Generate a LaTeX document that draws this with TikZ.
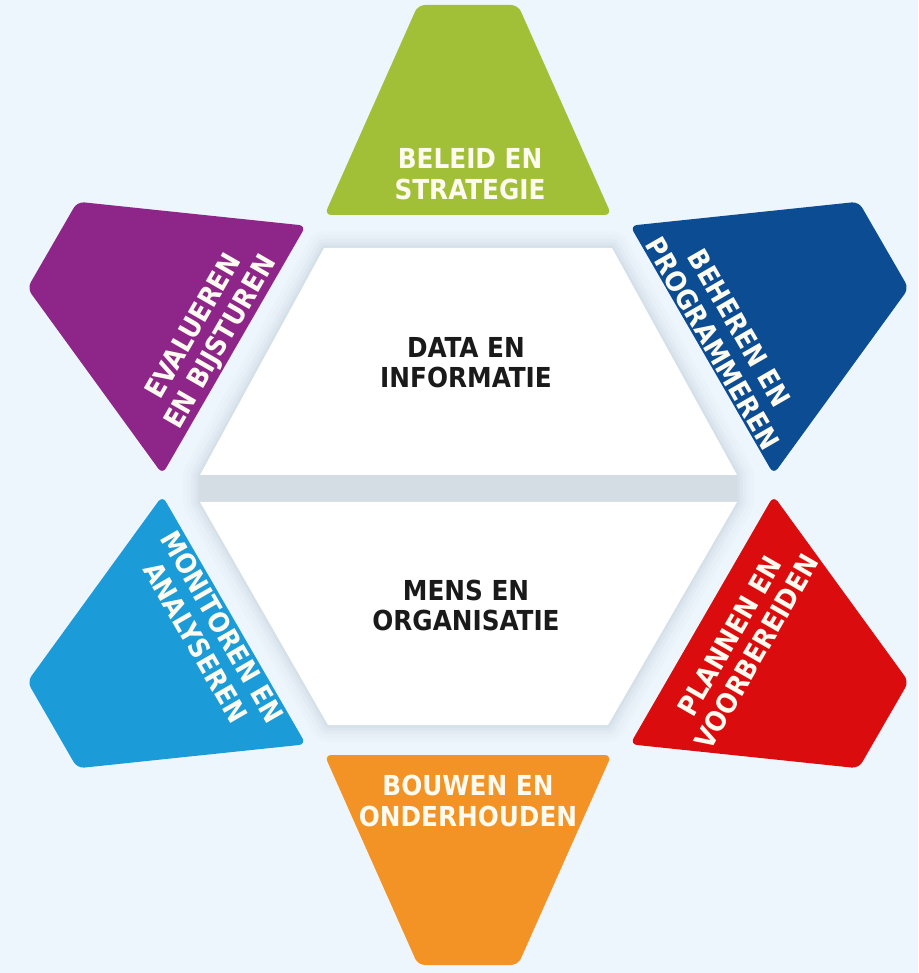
\documentclass[tikz,border=0pt]{standalone}
\usepackage{fontspec}
\newfontfamily\lab{DejaVu Sans Condensed Bold}
\definecolor{bgc}{RGB}{238,246,253}
\definecolor{shadowc}{RGB}{150,165,180}
\definecolor{bandc}{RGB}{212,220,228}
\definecolor{cgreen}{RGB}{162,192,55}
\definecolor{cpurple}{RGB}{142,37,137}
\definecolor{cblue}{RGB}{11,76,147}
\definecolor{ccyan}{RGB}{27,155,216}
\definecolor{cred}{RGB}{219,12,14}
\definecolor{corange}{RGB}{243,147,37}
\definecolor{ctext}{RGB}{253,251,240}
\definecolor{dtext}{RGB}{26,26,26}
\tikzset{
  petal/.style={rounded corners=7pt},
  lbl/.style={align=center, text=ctext, inner sep=0pt,
    font=\lab\fontsize{27.5}{31}\selectfont},
  clbl/.style={align=center, text=dtext, inner sep=0pt,
    font=\lab\fontsize{27.5}{30}\selectfont},
  halfc/.style={fill=white, draw=none}
}
\begin{document}
\begin{tikzpicture}[x=1pt,y=1pt]
\useasboundingbox[fill=bgc] (-468,-488) rectangle (450,485);
% soft shadow of the central hexagon
\foreach \w/\o in {34/0.03,26/0.04,18/0.05,11/0.07,5/0.09}{
  \draw[line width=\w pt, line join=round, draw=shadowc, opacity=\o]
    (-144,237) -- (144,237) -- (269,10) -- (269,-17) -- (140,-240)
    -- (-140,-240) -- (-268,-17) -- (-268,10) -- cycle;
}
\fill[bandc] (-144,237) -- (144,237) -- (269,10) -- (269,-17) -- (140,-240)
    -- (-140,-240) -- (-268,-17) -- (-268,10) -- cycle;
% white halves
\fill[halfc] (-144,237) -- (144,237) -- (269,10) -- (-268,10) -- cycle;
\fill[halfc] (-268,-17) -- (269,-17) -- (140,-240) -- (-140,-240) -- cycle;
\node[clbl] (data) at (-2,122) {DATA EN\\INFORMATIE};
\node[clbl] (mens) at (-2,-120) {MENS EN\\ORGANISATIE};
% petals
\begin{scope}[rotate=0]
  \fill[cgreen,petal] (-143.5,270) -- (143.5,270) -- (50,480) -- (-50,480) -- cycle;
  \node[lbl] (beleid) at (2,311) {BELEID EN\\STRATEGIE};
\end{scope}
\begin{scope}[rotate=60]
  \fill[cpurple,petal] (-143.5,270) -- (143.5,270) -- (50,480) -- (-50,480) -- cycle;
  \node[lbl,rotate=60] (eval) at (0,300) {EVALUEREN\\EN BIJSTUREN};
\end{scope}
\begin{scope}[rotate=-60]
  \fill[cblue,petal] (-143.5,270) -- (143.5,270) -- (50,480) -- (-50,480) -- cycle;
  \node[lbl,rotate=-60] (beheer) at (0,298) {BEHEREN EN\\PROGRAMMEREN};
\end{scope}
\begin{scope}[rotate=120]
  \fill[ccyan,petal] (-143.5,270) -- (143.5,270) -- (50,480) -- (-50,480) -- cycle;
  \node[lbl,rotate=-60] (monitor) at (0,299) {MONITOREN EN\\ANALYSEREN};
\end{scope}
\begin{scope}[rotate=-120]
  \fill[cred,petal] (-143.5,270) -- (143.5,270) -- (50,480) -- (-50,480) -- cycle;
  \node[lbl,rotate=60] (plan) at (0,318) {PLANNEN EN\\VOORBEREIDEN};
\end{scope}
\begin{scope}[rotate=180]
  \fill[corange,petal] (-143.5,270) -- (143.5,270) -- (50,480) -- (-50,480) -- cycle;
  \node[lbl] (bouw) at (0,316) {BOUWEN EN\\ONDERHOUDEN};
\end{scope}
\end{tikzpicture}
\end{document}
